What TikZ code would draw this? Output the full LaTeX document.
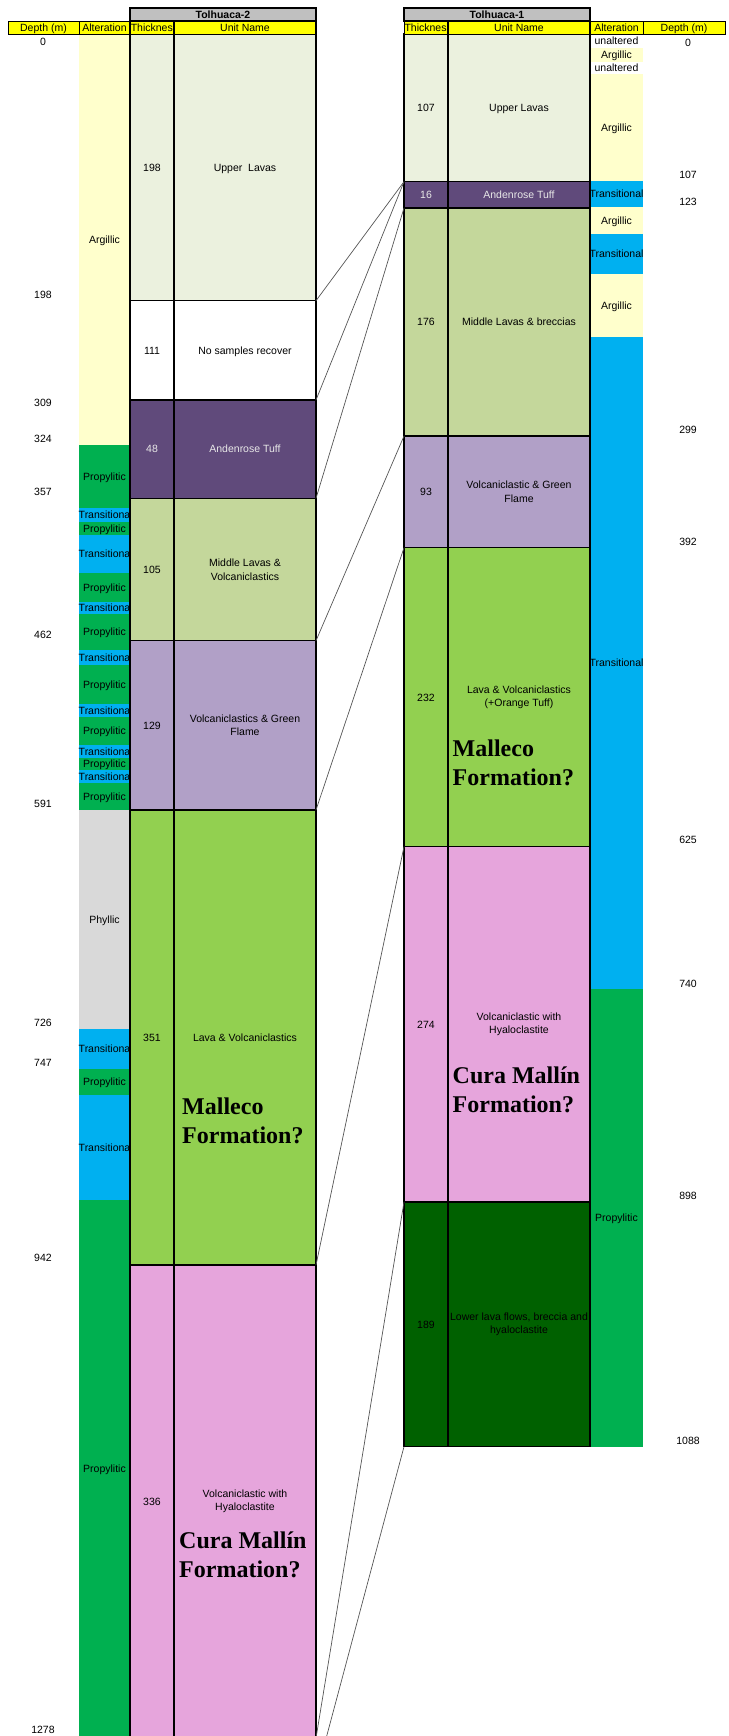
\documentclass[tikz,border=0pt]{standalone}
\usepackage{fontspec}
\setmainfont{Liberation Sans}
\newfontfamily\tnr{Liberation Serif}
\newcommand{\smf}{\fontsize{10.5}{13.5}\selectfont}
\newcommand{\bigf}{\tnr\bfseries\fontsize{24}{29}\selectfont}
\definecolor{argY}{HTML}{FFFFCC}
\definecolor{propG}{HTML}{00B050}
\definecolor{tranB}{HTML}{00B0F0}
\definecolor{phylG}{HTML}{D9D9D9}
\definecolor{upperL}{HTML}{EBF1DE}
\definecolor{andP}{HTML}{604A7B}
\definecolor{andT}{HTML}{E8E8E8}
\definecolor{midL}{HTML}{C4D79B}
\definecolor{volcP}{HTML}{B1A0C7}
\definecolor{lavaG}{HTML}{92D050}
\definecolor{curaP}{HTML}{E6A5DC}
\definecolor{lowG}{HTML}{006100}
\definecolor{hdrG}{HTML}{C0C0C0}
\definecolor{hdrY}{HTML}{FFFF00}
\definecolor{linkC}{HTML}{555555}
\newcommand{\boxnode}[7]{\node[#2, minimum width={#5-#3}, minimum height={#6-#4}] (#1) at ({(#3+#5)/2},{(#4+#6)/2}) {#7};}
\newcommand{\altband}[7]{\boxnode{#1}{alt, fill=#2}{#3}{#4}{#5}{#6}{}\node[lbl] (#1t) at (#1.center) {#7};}
\begin{document}
\begin{tikzpicture}[x=1pt,y=-1pt,
  cell/.style={rectangle, draw=black, line width=1.2pt, inner sep=0pt, outer sep=0pt},
  alt/.style={rectangle, draw=none, inner sep=0pt, outer sep=0pt},
  hdr/.style={rectangle, draw=black, line width=0.8pt, fill=hdrY, inner sep=0pt, outer sep=0pt},
  hdrtext/.style={rectangle, draw=black, line width=0.8pt, inner sep=0pt, outer sep=0pt},
  well/.style={rectangle, draw=black, line width=1.5pt, fill=hdrG, inner sep=0pt, outer sep=0pt},
  lbl/.style={font=\smf, text height=7.6pt, text depth=0pt, inner sep=0pt},
  lbl2/.style={font=\smf, align=center, inner sep=0pt},
  light/.style={text=andT},
  form/.style={font=\bigf, anchor=base west, inner sep=0pt},
  link/.style={draw=linkC, line width=0.7pt}]
\useasboundingbox (0,0) rectangle (728,1736);
\clip (0,0) rectangle (728,1736);

% ---------- Tolhuaca-2 alteration ----------
\altband{a2x1}{argY}{79}{34}{130}{445}{Argillic}
\altband{a2x2}{propG}{79}{445}{130}{508.3}{Propylitic}
\altband{a2x3}{tranB}{79}{508.3}{130}{521.7}{Transitiona}
\altband{a2x4}{propG}{79}{521.7}{130}{535}{Propylitic}
\altband{a2x5}{tranB}{79}{535}{130}{573.3}{Transitiona}
\altband{a2x6}{propG}{79}{573.3}{130}{601.7}{Propylitic}
\altband{a2x7}{tranB}{79}{601.7}{130}{614}{Transitiona}
\altband{a2x8}{propG}{79}{614}{130}{650}{Propylitic}
\altband{a2x9}{tranB}{79}{650}{130}{665}{Transitiona}
\altband{a2x10}{propG}{79}{665}{130}{704}{Propylitic}
\altband{a2x11}{tranB}{79}{704}{130}{716.7}{Transitiona}
\altband{a2x12}{propG}{79}{716.7}{130}{745}{Propylitic}
\altband{a2x13}{tranB}{79}{745}{130}{758.3}{Transitiona}
\altband{a2x14}{propG}{79}{758.3}{130}{770}{Propylitic}
\altband{a2x15}{tranB}{79}{770}{130}{783.3}{Transitiona}
\altband{a2x16}{propG}{79}{783.3}{130}{810}{Propylitic}
\altband{a2x17}{phylG}{79}{810}{130}{1029}{Phyllic}
\altband{a2x18}{tranB}{79}{1029}{130}{1069}{Transitiona}
\altband{a2x19}{propG}{79}{1069}{130}{1095}{Propylitic}
\altband{a2x20}{tranB}{79}{1095}{130}{1200}{Transitiona}
\altband{a2x21}{propG}{79}{1200}{130}{1738}{Propylitic}

% ---------- Tolhuaca-1 alteration ----------
\altband{a1x1}{white}{590}{34}{643}{48}{unaltered}
\altband{a1x2}{argY}{590}{48}{643}{61.7}{Argillic}
\altband{a1x3}{white}{590}{61.7}{643}{74}{unaltered}
\altband{a1x4}{argY}{590}{74}{643}{181}{Argillic}
\altband{a1x5}{tranB}{590}{181}{643}{206.7}{Transitional}
\altband{a1x6}{argY}{590}{206.7}{643}{234}{Argillic}
\altband{a1x7}{tranB}{590}{234}{643}{274}{Transitional}
\altband{a1x8}{argY}{590}{274}{643}{336.7}{Argillic}
\altband{a1x9}{tranB}{590}{336.7}{643}{989}{Transitional}
\altband{a1x10}{propG}{590}{989}{643}{1446.7}{Propylitic}

% ---------- Tolhuaca-2 units ----------
\boxnode{t2k1}{cell, fill=upperL}{130}{34}{174}{300.7}{}
\boxnode{t2n1}{cell, fill=upperL}{174}{34}{316}{300.7}{}
\boxnode{t2k2}{cell, fill=white}{130}{300.7}{174}{400}{}
\boxnode{t2n2}{cell, fill=white}{174}{300.7}{316}{400}{}
\boxnode{t2k3}{cell, fill=andP}{130}{400}{174}{498.3}{}
\boxnode{t2n3}{cell, fill=andP}{174}{400}{316}{498.3}{}
\boxnode{t2k4}{cell, fill=midL}{130}{498.3}{174}{640.7}{}
\boxnode{t2n4}{cell, fill=midL}{174}{498.3}{316}{640.7}{}
\boxnode{t2k5}{cell, fill=volcP}{130}{640.7}{174}{810}{}
\boxnode{t2n5}{cell, fill=volcP}{174}{640.7}{316}{810}{}
\boxnode{t2k6}{cell, fill=lavaG}{130}{810}{174}{1265}{}
\boxnode{t2n6}{cell, fill=lavaG}{174}{810}{316}{1265}{}
\boxnode{t2k7}{cell, fill=curaP}{130}{1265}{174}{1738}{}
\boxnode{t2n7}{cell, fill=curaP}{174}{1265}{316}{1738}{}

\node[lbl] (t2k1t) at (t2k1.center) {198};
\node[lbl] (t2n1t) at (t2n1.center) {Upper~ Lavas};
\node[lbl] (t2k2t) at (t2k2.center) {111};
\node[lbl] (t2n2t) at (t2n2.center) {No samples recover};
\node[lbl, light] (t2k3t) at (t2k3.center) {48};
\node[lbl, light] (t2n3t) at (t2n3.center) {Andenrose Tuff};
\node[lbl] (t2k4t) at (t2k4.center) {105};
\node[lbl2] (t2n4t) at (t2n4.center) {Middle Lavas \&\\Volcaniclastics};
\node[lbl] (t2k5t) at (t2k5.center) {129};
\node[lbl2] (t2n5t) at (t2n5.center) {Volcaniclastics \& Green\\Flame};
\node[lbl] (t2k6t) at (t2k6.center) {351};
\node[lbl] (t2n6t) at (t2n6.center) {Lava \& Volcaniclastics};
\node[lbl] (t2k7t) at (t2k7.center) {336};
\node[lbl2] (t2n7t) at (t2n7.center) {Volcaniclastic with\\Hyaloclastite};
\node[form] (f2a) at (182,1114.3) {Malleco};
\node[form] (f2b) at (182,1143.3) {Formation?};
\node[form] (f2c) at (179,1548.5) {Cura Mallín};
\node[form] (f2d) at (179,1577.5) {Formation?};

% ---------- Tolhuaca-1 units ----------
\boxnode{t1k1}{cell, fill=upperL}{404}{34}{448}{181.7}{}
\boxnode{t1n1}{cell, fill=upperL}{448}{34}{590}{181.7}{}
\boxnode{t1k2}{cell, fill=andP}{404}{181.7}{448}{208}{}
\boxnode{t1n2}{cell, fill=andP}{448}{181.7}{590}{208}{}
\boxnode{t1k3}{cell, fill=midL}{404}{208}{448}{436}{}
\boxnode{t1n3}{cell, fill=midL}{448}{208}{590}{436}{}
\boxnode{t1k4}{cell, fill=volcP}{404}{436}{448}{547.7}{}
\boxnode{t1n4}{cell, fill=volcP}{448}{436}{590}{547.7}{}
\boxnode{t1k5}{cell, fill=lavaG}{404}{547.7}{448}{846.7}{}
\boxnode{t1n5}{cell, fill=lavaG}{448}{547.7}{590}{846.7}{}
\boxnode{t1k6}{cell, fill=curaP}{404}{846.7}{448}{1202}{}
\boxnode{t1n6}{cell, fill=curaP}{448}{846.7}{590}{1202}{}
\boxnode{t1k7}{cell, fill=lowG}{404}{1202}{448}{1446.7}{}
\boxnode{t1n7}{cell, fill=lowG}{448}{1202}{590}{1446.7}{}

\node[lbl] (t1k1t) at (t1k1.center) {107};
\node[lbl] (t1n1t) at (t1n1.center) {Upper Lavas};
\node[lbl, light] (t1k2t) at (t1k2.center) {16};
\node[lbl, light] (t1n2t) at (t1n2.center) {Andenrose Tuff};
\node[lbl] (t1k3t) at (t1k3.center) {176};
\node[lbl] (t1n3t) at (t1n3.center) {Middle Lavas \& breccias};
\node[lbl] (t1k4t) at (t1k4.center) {93};
\node[lbl2] (t1n4t) at (t1n4.center) {Volcaniclastic \& Green\\Flame};
\node[lbl] (t1k5t) at (t1k5.center) {232};
\node[lbl2] (t1n5t) at (t1n5.center) {Lava \& Volcaniclastics\\(+Orange Tuff)};
\node[lbl] (t1k6t) at (t1k6.center) {274};
\node[lbl2] (t1n6t) at (t1n6.center) {Volcaniclastic with\\Hyaloclastite};
\node[lbl] (t1k7t) at (t1k7.center) {189};
\node[lbl2] (t1n7t) at (t1n7.center) {Lower lava flows, breccia and\\hyaloclastite};
\node[form] (f1a) at (452.5,756) {Malleco};
\node[form] (f1b) at (452.5,785) {Formation?};
\node[form] (f1c) at (452.5,1083.5) {Cura Mallín};
\node[form] (f1d) at (452.5,1112.5) {Formation?};

% ---------- headers ----------
\boxnode{w2}{well}{130}{8}{316}{21}{}
\node[lbl, font=\smf\bfseries] (w2t) at (w2.center) {Tolhuaca-2};
\boxnode{w1}{well}{404}{8}{590}{21}{}
\node[lbl, font=\smf\bfseries] (w1t) at (w1.center) {Tolhuaca-1};

\boxnode{h2d}{hdr}{8}{21}{79}{34}{}
\boxnode{h2a}{hdr}{79}{21}{130}{34}{}
\boxnode{h2k}{hdr}{130}{21}{174}{34}{}
\boxnode{h2n}{hdr}{174}{21}{316}{34}{}
\boxnode{h1k}{hdr}{404}{21}{448}{34}{}
\boxnode{h1n}{hdr}{448}{21}{590}{34}{}
\boxnode{h1a}{hdr}{590}{21}{643}{34}{}
\boxnode{h1d}{hdr}{643}{21}{725}{34}{}
\node[lbl] (h2dt) at (h2d.center) {Depth (m)};
\node[lbl] (h2at) at (h2a.center) {Alteration};
\node[lbl] (h2nt) at (h2n.center) {Unit Name};
\node[lbl] (h1nt) at (h1n.center) {Unit Name};
\node[lbl] (h1at) at (h1a.center) {Alteration};
\node[lbl] (h1dt) at (h1d.center) {Depth (m)};
\begin{scope}
  \clip (130,21) rectangle (174,34);
  \node[lbl, anchor=west] (h2kt) at (130.6,27.5) {Thickness};
\end{scope}
\begin{scope}
  \clip (404,21) rectangle (448,34);
  \node[lbl, anchor=west] (h1kt) at (404.3,27.5) {Thickness};
\end{scope}
\draw[line width=1.2pt] (h2k.north west) -- (h2k.south west) (h2k.north east) -- (h2k.south east) (h2n.north east) -- (h2n.south east);
\draw[line width=1.2pt] (h1k.north east) -- (h1k.south east) (h1n.north east) -- (h1n.south east);

% ---------- depth labels ----------
\node[lbl] (d2a) at (43,42) {0};
\node[lbl] (d2b) at (43,295) {198};
\node[lbl] (d2c) at (43,403) {309};
\node[lbl] (d2d) at (43,439) {324};
\node[lbl] (d2e) at (43,492) {357};
\node[lbl] (d2f) at (43,635) {462};
\node[lbl] (d2g) at (43,804) {591};
\node[lbl] (d2h) at (43,1023) {726};
\node[lbl] (d2i) at (43,1063) {747};
\node[lbl] (d2j) at (43,1258) {942};
\node[lbl] (d2k) at (43,1730) {1278};
\node[lbl] (d1a) at (688,43) {0};
\node[lbl] (d1b) at (688,175) {107};
\node[lbl] (d1c) at (688,201.7) {123};
\node[lbl] (d1d) at (688,430) {299};
\node[lbl] (d1e) at (688,542) {392};
\node[lbl] (d1f) at (688,840) {625};
\node[lbl] (d1g) at (688,983.6) {740};
\node[lbl] (d1h) at (688,1196) {898};
\node[lbl] (d1i) at (688,1441) {1088};

% ---------- correlation lines ----------
\coordinate (lowEnd) at (320.3,1760);
\draw[link] (t2n1.south east) -- (t1k1.south west);
\draw[link] (t2n2.south east) -- (t1k1.south west);
\draw[link] (t2n3.south east) -- (t1k2.south west);
\draw[link] (t2n4.south east) -- (t1k3.south west);
\draw[link] (t2n5.south east) -- (t1k4.south west);
\draw[link] (t2n6.south east) -- (t1k5.south west);
\draw[link] (t1k6.south west) -- (t2n7.south east);
\draw[link] (t1k7.south west) -- (lowEnd);
\end{tikzpicture}
\end{document}
